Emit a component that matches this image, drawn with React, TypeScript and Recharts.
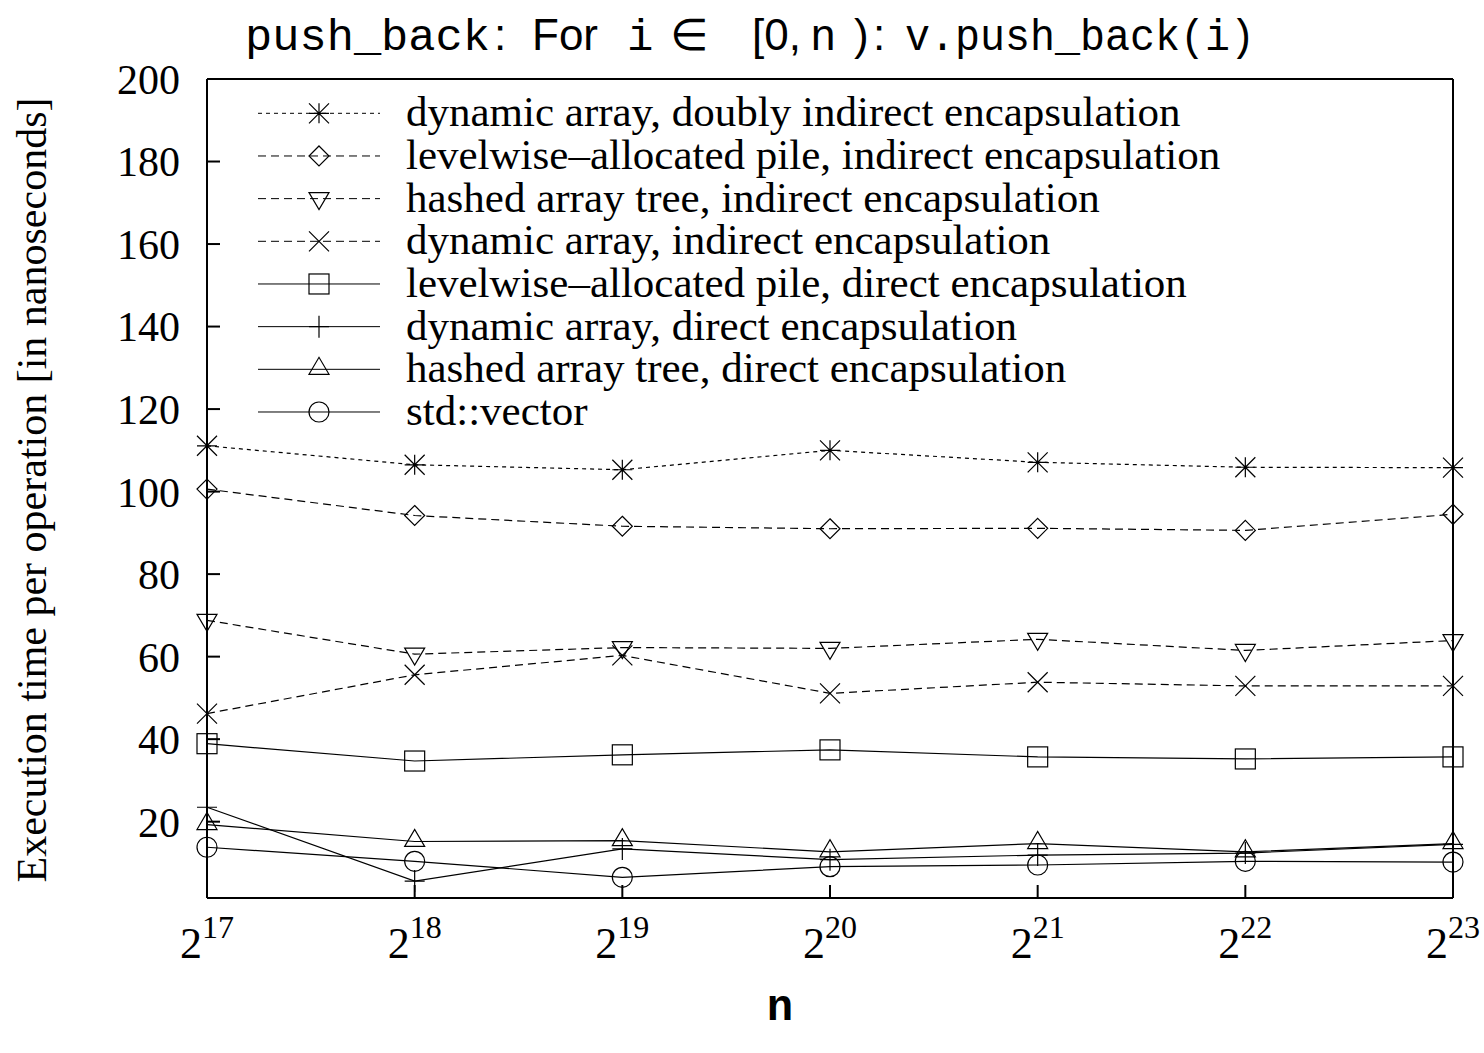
import { LineChart, Line, XAxis, YAxis, Legend } from 'recharts';

// x values are log2(n)
const exponents = [17, 18, 19, 20, 21, 22, 23];
const yTicks = [20, 40, 60, 80, 100, 120, 140, 160, 180, 200];

const dynDoublyIndirect = [111.1, 106.5, 105.3, 110.0, 107.1, 105.9, 105.8];
const pileIndirect = [100.6, 94.2, 91.6, 91.0, 91.1, 90.6, 94.5];
const hatIndirect = [68.8, 60.6, 62.2, 62.0, 64.2, 61.5, 63.9];
const dynIndirect = [46.2, 55.6, 60.3, 51.1, 53.8, 52.9, 52.9];
const pileDirect = [38.9, 34.7, 36.2, 37.4, 35.7, 35.2, 35.7];
const dynDirect = [23.5, 5.6, 13.4, 10.8, 11.9, 12.4, 14.5];
const hatDirect = [19.3, 15.2, 15.4, 12.7, 14.7, 12.7, 14.7];
const stdVector = [13.8, 10.4, 6.5, 9.1, 9.5, 10.4, 10.2];

const seriesNames = [
  'dynamic array, doubly indirect encapsulation',
  'levelwise\u2013allocated pile, indirect encapsulation',
  'hashed array tree, indirect encapsulation',
  'dynamic array, indirect encapsulation',
  'levelwise\u2013allocated pile, direct encapsulation',
  'dynamic array, direct encapsulation',
  'hashed array tree, direct encapsulation',
  'std::vector',
];

type Shape = 'star' | 'diamond' | 'tridown' | 'cross' | 'square' | 'plus' | 'triup' | 'circle';

const series: { key: string; values: number[]; shape: Shape; dash?: string }[] = [
  { key: 'dynDoublyIndirect', values: dynDoublyIndirect, shape: 'star', dash: '4 4' },
  { key: 'pileIndirect', values: pileIndirect, shape: 'diamond', dash: '8 5' },
  { key: 'hatIndirect', values: hatIndirect, shape: 'tridown', dash: '8 5' },
  { key: 'dynIndirect', values: dynIndirect, shape: 'cross', dash: '8 5' },
  { key: 'pileDirect', values: pileDirect, shape: 'square' },
  { key: 'dynDirect', values: dynDirect, shape: 'plus' },
  { key: 'hatDirect', values: hatDirect, shape: 'triup' },
  { key: 'stdVector', values: stdVector, shape: 'circle' },
];

const data = exponents.map((e, i) => {
  const row: Record<string, number> = { e };
  series.forEach((s) => {
    row[s.key] = s.values[i];
  });
  return row;
});

const SERIF = '"Liberation Serif", "Times New Roman", serif';
const MONO = '"Liberation Mono", "DejaVu Sans Mono", monospace';
const SANS = '"Liberation Sans", Arial, "DejaVu Sans", sans-serif';

function Marker({ shape, cx, cy }: { shape: Shape; cx: number; cy: number }) {
  const p = { fill: 'none', stroke: '#000', strokeWidth: 1.2 };
  const s = 10;
  switch (shape) {
    case 'star':
      return (
        <path
          {...p}
          d={`M${cx - s},${cy}H${cx + s}M${cx},${cy - s}V${cy + s}M${cx - s},${cy - s}L${cx + s},${cy + s}M${cx - s},${cy + s}L${cx + s},${cy - s}`}
        />
      );
    case 'diamond':
      return <path {...p} d={`M${cx},${cy - s}L${cx + s},${cy}L${cx},${cy + s}L${cx - s},${cy}Z`} />;
    case 'tridown':
      return <path {...p} d={`M${cx - s},${cy - 6}L${cx + s},${cy - 6}L${cx},${cy + 11}Z`} />;
    case 'cross':
      return <path {...p} d={`M${cx - s},${cy - s}L${cx + s},${cy + s}M${cx - s},${cy + s}L${cx + s},${cy - s}`} />;
    case 'square':
      return <rect {...p} x={cx - s} y={cy - s} width={2 * s} height={2 * s} />;
    case 'plus':
      return <path {...p} d={`M${cx - s},${cy}H${cx + s}M${cx},${cy - 11}V${cy + 11}`} />;
    case 'triup':
      return <path {...p} d={`M${cx - s},${cy + 5}L${cx + s},${cy + 5}L${cx},${cy - 12}Z`} />;
    case 'circle':
    default:
      return <circle {...p} cx={cx} cy={cy} r={s} />;
  }
}

function PowTick({ x, y, payload }: any) {
  return (
    <text x={x} y={y + 60} textAnchor="middle" fontFamily={SERIF} fill="#000">
      <tspan fontSize={44}>2</tspan>
      <tspan fontSize={32} dy={-20}>
        {payload.value}
      </tspan>
    </text>
  );
}

function LegendBox() {
  return (
    <svg width={1484} height={440} style={{ display: 'block' }}>
      {series.map((s, i) => {
        const y = 113.3 + 42.67 * i;
        return (
          <g key={s.key}>
            <line x1={258} x2={380} y1={y} y2={y} stroke="#000" strokeWidth={1} strokeDasharray={s.dash} />
            <Marker shape={s.shape} cx={319} cy={y} />
            <text x={406} y={y + 13} fontFamily={SERIF} fontSize={43} fill="#000">
              {seriesNames[i]}
            </text>
          </g>
        );
      })}
    </svg>
  );
}

export default function App() {
  const axisStroke = { stroke: '#000', strokeWidth: 2 };
  return (
    <div style={{ position: 'absolute', left: 0, top: 0, background: '#fff' }}>
      <LineChart width={1484} height={1053} data={data} margin={{ top: 78, right: 30, bottom: 95, left: 107 }}>
        <XAxis
          xAxisId="b"
          dataKey="e"
          type="number"
          domain={[17, 23]}
          ticks={exponents}
          interval={0}
          height={60}
          tickSize={-13}
          tickMargin={13}
          axisLine={axisStroke}
          tickLine={axisStroke}
          tick={<PowTick />}
        />
        <XAxis
          xAxisId="t"
          orientation="top"
          dataKey="e"
          type="number"
          domain={[17, 23]}
          ticks={exponents}
          interval={0}
          height={1}
          tickSize={-13}
          axisLine={axisStroke}
          tickLine={axisStroke}
          tick={false}
        />
        <YAxis
          yAxisId="l"
          type="number"
          domain={[1.5, 200]}
          ticks={yTicks}
          interval={0}
          width={100}
          tickSize={-13}
          tickMargin={40}
          axisLine={axisStroke}
          tickLine={axisStroke}
          tick={{ fontSize: 42, fill: '#000', fontFamily: SERIF }}
        />
        <YAxis
          yAxisId="r"
          orientation="right"
          type="number"
          domain={[1.5, 200]}
          ticks={yTicks}
          interval={0}
          width={1}
          tickSize={-13}
          axisLine={axisStroke}
          tickLine={axisStroke}
          tick={false}
        />
        <Legend
          layout="horizontal"
          verticalAlign="middle"
          align="center"
          wrapperStyle={{ left: 0, top: 0, width: 1484, height: 440 }}
          content={() => <LegendBox />}
        />
        {series.map((s, i) => (
          <Line
            key={s.key}
            xAxisId="b"
            yAxisId="l"
            dataKey={s.key}
            name={seriesNames[i]}
            stroke="#000"
            strokeWidth={1.2}
            strokeDasharray={s.dash}
            isAnimationActive={false}
            dot={(p: any) => <Marker key={`${s.key}-${p.index}`} shape={s.shape} cx={p.cx} cy={p.cy} />}
            activeDot={false}
          />
        ))}
        <text y={50} fill="#000" fontSize={44}>
          <tspan x={245} fontFamily={MONO} textLength={245} lengthAdjust="spacingAndGlyphs">
            push_back
          </tspan>
          <tspan x={494} fontFamily={SANS}>:</tspan>
          <tspan x={532} fontFamily={SANS}>For</tspan>
          <tspan x={627} fontFamily={MONO}>i</tspan>
          <tspan x={670} fontFamily={SANS}>∈</tspan>
          <tspan x={752} fontFamily={SANS}>[0,</tspan>
          <tspan x={810} fontFamily={MONO}>n</tspan>
          <tspan x={854} fontFamily={SANS}>)</tspan>
          <tspan x={873} fontFamily={SANS}>:</tspan>
          <tspan x={905} fontFamily={MONO} textLength={350} lengthAdjust="spacingAndGlyphs">
            v.push_back(i)
          </tspan>
        </text>
        <text
          transform="rotate(-90)"
          x={-490}
          y={46}
          textAnchor="middle"
          fill="#000"
          fontFamily={SERIF}
          fontSize={42}
        >
          Execution time per operation [in nanoseconds]
        </text>
        <text x={780} y={1020} textAnchor="middle" fill="#000" fontFamily={MONO} fontWeight="bold" fontSize={44}>
          n
        </text>
      </LineChart>
    </div>
  );
}
